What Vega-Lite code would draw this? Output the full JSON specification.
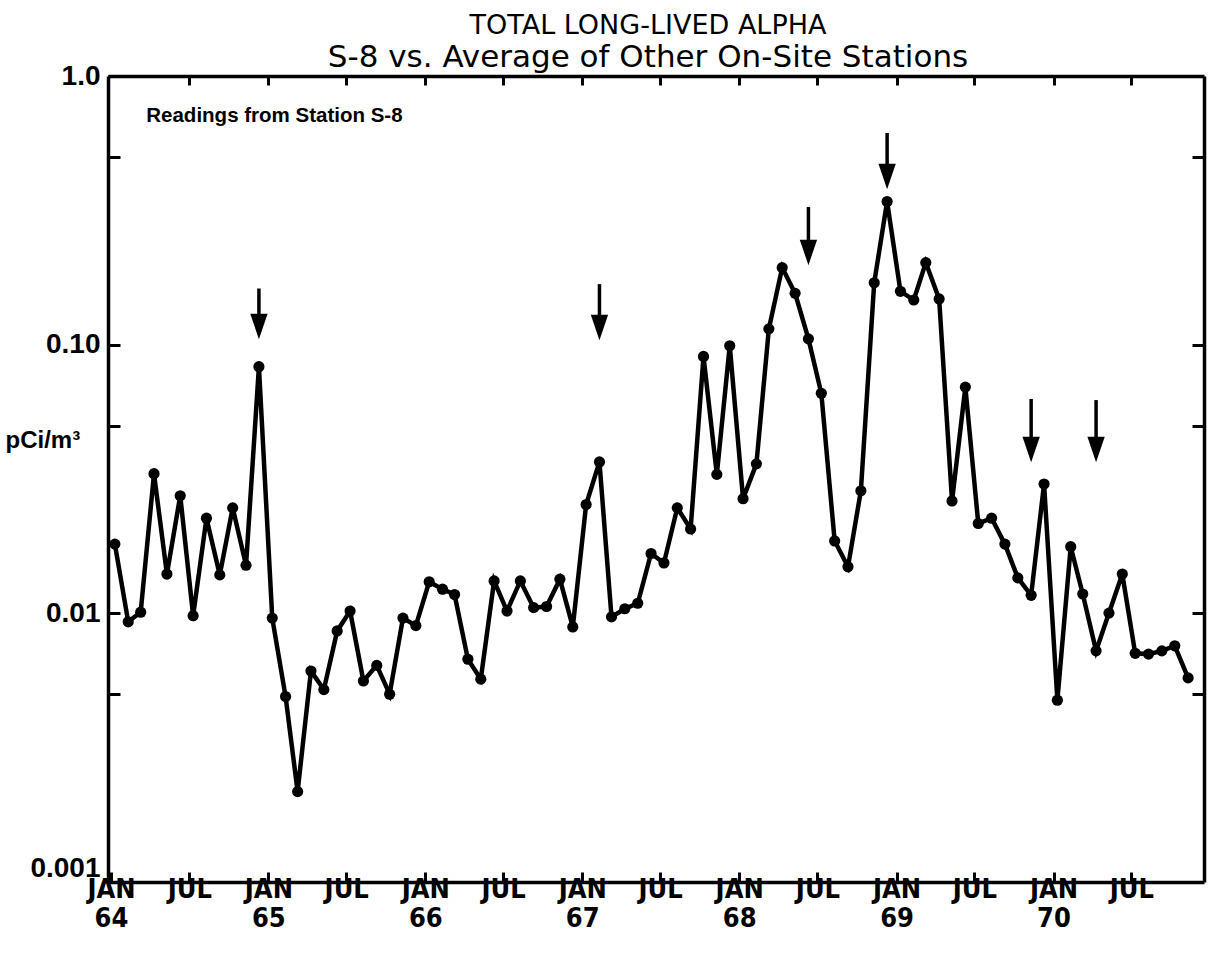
{
  "$schema": "https://vega.github.io/schema/vega-lite/v6.json",
  "width": 1096,
  "height": 806,
  "autosize": {"type": "none"},
  "padding": {"left": 108, "top": 76, "right": 12, "bottom": 73},
  "background": "white",
  "title": {
    "text": "TOTAL LONG-LIVED ALPHA",
    "subtitle": "S-8 vs. Average of Other On-Site Stations",
    "font": "DejaVu Sans",
    "fontSize": 27,
    "fontWeight": "normal",
    "color": "black",
    "subtitleFont": "DejaVu Sans",
    "subtitleFontSize": 31,
    "subtitleColor": "black",
    "anchor": "middle",
    "frame": "group",
    "offset": -12,
    "dx": -8,
    "subtitlePadding": 3
  },
  "config": {
    "view": {"stroke": null},
    "axis": {
      "grid": false,
      "domainColor": "black",
      "domainWidth": 3.5,
      "tickColor": "black",
      "tickWidth": 3,
      "labelColor": "black",
      "titleColor": "black"
    }
  },
  "datasets": {
    "s8": [
      {"date": "1964-01-10", "value": 0.0181},
      {"date": "1964-02-10", "value": 0.0093},
      {"date": "1964-03-10", "value": 0.0101},
      {"date": "1964-04-10", "value": 0.0331},
      {"date": "1964-05-10", "value": 0.0140},
      {"date": "1964-06-10", "value": 0.0274},
      {"date": "1964-07-10", "value": 0.0098},
      {"date": "1964-08-10", "value": 0.0226},
      {"date": "1964-09-10", "value": 0.0139},
      {"date": "1964-10-10", "value": 0.0247},
      {"date": "1964-11-10", "value": 0.0151},
      {"date": "1964-12-10", "value": 0.0828},
      {"date": "1965-01-10", "value": 0.0096},
      {"date": "1965-02-10", "value": 0.0049},
      {"date": "1965-03-10", "value": 0.00217},
      {"date": "1965-04-10", "value": 0.0061},
      {"date": "1965-05-10", "value": 0.0052},
      {"date": "1965-06-10", "value": 0.0086},
      {"date": "1965-07-10", "value": 0.0102},
      {"date": "1965-08-10", "value": 0.0056},
      {"date": "1965-09-10", "value": 0.0064},
      {"date": "1965-10-10", "value": 0.0050},
      {"date": "1965-11-10", "value": 0.0096},
      {"date": "1965-12-10", "value": 0.0090},
      {"date": "1966-01-10", "value": 0.0131},
      {"date": "1966-02-10", "value": 0.0123},
      {"date": "1966-03-10", "value": 0.01175},
      {"date": "1966-04-10", "value": 0.00675},
      {"date": "1966-05-10", "value": 0.00569},
      {"date": "1966-06-10", "value": 0.0132},
      {"date": "1966-07-10", "value": 0.0102},
      {"date": "1966-08-10", "value": 0.0132},
      {"date": "1966-09-10", "value": 0.0105},
      {"date": "1966-10-10", "value": 0.0106},
      {"date": "1966-11-10", "value": 0.0134},
      {"date": "1966-12-10", "value": 0.0089},
      {"date": "1967-01-10", "value": 0.0254},
      {"date": "1967-02-10", "value": 0.0366},
      {"date": "1967-03-10", "value": 0.0097},
      {"date": "1967-04-10", "value": 0.0104},
      {"date": "1967-05-10", "value": 0.0109},
      {"date": "1967-06-10", "value": 0.0167},
      {"date": "1967-07-10", "value": 0.0154},
      {"date": "1967-08-10", "value": 0.0247},
      {"date": "1967-09-10", "value": 0.0206},
      {"date": "1967-10-10", "value": 0.0904},
      {"date": "1967-11-10", "value": 0.0329},
      {"date": "1967-12-10", "value": 0.0991},
      {"date": "1968-01-10", "value": 0.0267},
      {"date": "1968-02-10", "value": 0.0360},
      {"date": "1968-03-10", "value": 0.1145},
      {"date": "1968-04-10", "value": 0.1936},
      {"date": "1968-05-10", "value": 0.1553},
      {"date": "1968-06-10", "value": 0.1051},
      {"date": "1968-07-10", "value": 0.0659},
      {"date": "1968-08-10", "value": 0.0186},
      {"date": "1968-09-10", "value": 0.0149},
      {"date": "1968-10-10", "value": 0.0286},
      {"date": "1968-11-10", "value": 0.170},
      {"date": "1968-12-10", "value": 0.341},
      {"date": "1969-01-10", "value": 0.158},
      {"date": "1969-02-10", "value": 0.1466},
      {"date": "1969-03-10", "value": 0.202},
      {"date": "1969-04-10", "value": 0.148},
      {"date": "1969-05-10", "value": 0.0262},
      {"date": "1969-06-10", "value": 0.0695},
      {"date": "1969-07-10", "value": 0.0216},
      {"date": "1969-08-10", "value": 0.0226},
      {"date": "1969-09-10", "value": 0.0181},
      {"date": "1969-10-10", "value": 0.01355},
      {"date": "1969-11-10", "value": 0.01167},
      {"date": "1969-12-10", "value": 0.0303},
      {"date": "1970-01-10", "value": 0.00475},
      {"date": "1970-02-10", "value": 0.0177},
      {"date": "1970-03-10", "value": 0.0118},
      {"date": "1970-04-10", "value": 0.00725},
      {"date": "1970-05-10", "value": 0.01002},
      {"date": "1970-06-10", "value": 0.0140},
      {"date": "1970-07-10", "value": 0.0071},
      {"date": "1970-08-10", "value": 0.00705},
      {"date": "1970-09-10", "value": 0.00725},
      {"date": "1970-10-10", "value": 0.00757},
      {"date": "1970-11-10", "value": 0.00575}
    ],
    "arrows": [
      {"date": "1964-12-10", "top": 0.1618, "head": 0.1169},
      {"date": "1967-02-10", "top": 0.168, "head": 0.1159},
      {"date": "1968-06-10", "top": 0.3253, "head": 0.2205},
      {"date": "1968-12-10", "top": 0.6135, "head": 0.4225},
      {"date": "1969-11-10", "top": 0.0628, "head": 0.0407},
      {"date": "1970-04-10", "top": 0.0622, "head": 0.0407}
    ],
    "notes": [
      {"date": "1964-03-23", "value": 0.674, "label": "Readings from Station S-8"}
    ]
  },
  "layer": [
    {
      "data": {"name": "s8"},
      "mark": {"type": "line", "color": "black", "strokeWidth": 4.5},
      "encoding": {
        "x": {
          "field": "date", "type": "temporal",
          "scale": {"type": "utc", "nice": false, "domain": [{"year": 1963, "month": 12, "date": 25, "utc": true}, {"year": 1970, "month": 12, "date": 17, "utc": true}]},
          "axis": {
            "orient": "bottom",
            "title": null,
            "values": [
              {"year": 1964, "month": 1, "date": 1, "utc": true},
              {"year": 1964, "month": 7, "date": 1, "utc": true},
              {"year": 1965, "month": 1, "date": 1, "utc": true},
              {"year": 1965, "month": 7, "date": 1, "utc": true},
              {"year": 1966, "month": 1, "date": 1, "utc": true},
              {"year": 1966, "month": 7, "date": 1, "utc": true},
              {"year": 1967, "month": 1, "date": 1, "utc": true},
              {"year": 1967, "month": 7, "date": 1, "utc": true},
              {"year": 1968, "month": 1, "date": 1, "utc": true},
              {"year": 1968, "month": 7, "date": 1, "utc": true},
              {"year": 1969, "month": 1, "date": 1, "utc": true},
              {"year": 1969, "month": 7, "date": 1, "utc": true},
              {"year": 1970, "month": 1, "date": 1, "utc": true},
              {"year": 1970, "month": 7, "date": 1, "utc": true}
            ],
            "labelExpr": "utcmonth(datum.value) == 0 ? ['JAN', utcFormat(datum.value, '%y')] : ['JUL', '']",
            "labelFont": "DejaVu Sans Condensed, Liberation Sans",
            "labelFontSize": 27,
            "labelFontWeight": "bold",
            "labelLineHeight": 29,
            "labelBaseline": "top",
            "labelFlush": false,
            "labelOverlap": false,
            "labelBound": false,
            "tickSize": -10,
            "labelPadding": 4
          }
        },
        "y": {
          "field": "value", "type": "quantitative",
          "scale": {"type": "log", "domain": [0.001, 1], "nice": false},
          "axis": {
            "orient": "left",
            "title": "pCi/m³",
            "titleAngle": 0,
            "titleAlign": "left",
            "titleBaseline": "middle",
            "titleX": -103,
            "titleY": 364,
            "titleFont": "Liberation Sans",
            "titleFontSize": 24,
            "titleFontWeight": "bold",
            "values": [0.001, 0.005, 0.01, 0.05, 0.1, 0.5, 1],
            "labelExpr": "datum.value == 1 ? '1.0' : datum.value == 0.1 ? '0.10' : datum.value == 0.01 ? '0.01' : datum.value == 0.001 ? '0.001' : ''",
            "labelFont": "Liberation Sans",
            "labelFontSize": 28,
            "labelFontWeight": "bold",
            "labelBaseline": {"condition": {"test": "datum.value == 0.001", "value": "bottom"}, "value": "middle"},
            "labelFlush": false,
            "labelOverlap": false,
            "labelBound": false,
            "tickSize": -12,
            "labelPadding": 20
          }
        }
      }
    },
    {
      "data": {"name": "s8"},
      "mark": {"type": "point", "filled": true, "size": 125, "color": "black", "opacity": 1},
      "encoding": {
        "x": {
          "field": "date", "type": "temporal",
          "scale": {"type": "utc", "nice": false, "domain": [{"year": 1963, "month": 12, "date": 25, "utc": true}, {"year": 1970, "month": 12, "date": 17, "utc": true}]},
          "axis": {
            "orient": "top",
            "title": null,
            "labels": false,
            "values": [
              {"year": 1964, "month": 7, "date": 1, "utc": true},
              {"year": 1965, "month": 1, "date": 1, "utc": true},
              {"year": 1965, "month": 7, "date": 1, "utc": true},
              {"year": 1966, "month": 1, "date": 1, "utc": true},
              {"year": 1966, "month": 7, "date": 1, "utc": true},
              {"year": 1967, "month": 1, "date": 1, "utc": true},
              {"year": 1967, "month": 7, "date": 1, "utc": true},
              {"year": 1968, "month": 1, "date": 1, "utc": true},
              {"year": 1968, "month": 7, "date": 1, "utc": true},
              {"year": 1969, "month": 1, "date": 1, "utc": true},
              {"year": 1969, "month": 7, "date": 1, "utc": true},
              {"year": 1970, "month": 1, "date": 1, "utc": true},
              {"year": 1970, "month": 7, "date": 1, "utc": true}
            ],
            "tickSize": -9
          }
        },
        "y": {
          "field": "value", "type": "quantitative",
          "scale": {"type": "log", "domain": [0.001, 1], "nice": false},
          "axis": {
            "orient": "right",
            "title": null,
            "labels": false,
            "values": [0.005, 0.01, 0.05, 0.1, 0.5],
            "tickSize": -12
          }
        }
      }
    },
    {
      "data": {"name": "arrows"},
      "mark": {"type": "rule", "color": "black", "strokeWidth": 3.5},
      "encoding": {
        "x": {"field": "date", "type": "temporal", "scale": {"type": "utc", "nice": false, "domain": [{"year": 1963, "month": 12, "date": 25, "utc": true}, {"year": 1970, "month": 12, "date": 17, "utc": true}]}, "axis": null},
        "y": {"field": "top", "type": "quantitative", "scale": {"type": "log", "domain": [0.001, 1], "nice": false}, "axis": null},
        "y2": {"field": "head"}
      }
    },
    {
      "data": {"name": "arrows"},
      "mark": {"type": "point", "shape": "M-0.68,-1L0.68,-1L0,1Z", "filled": true, "size": 650, "color": "black", "opacity": 1, "strokeWidth": 0},
      "encoding": {
        "x": {"field": "date", "type": "temporal", "scale": {"type": "utc", "nice": false, "domain": [{"year": 1963, "month": 12, "date": 25, "utc": true}, {"year": 1970, "month": 12, "date": 17, "utc": true}]}, "axis": null},
        "y": {"field": "head", "type": "quantitative", "scale": {"type": "log", "domain": [0.001, 1], "nice": false}, "axis": null}
      }
    },
    {
      "data": {"name": "notes"},
      "mark": {"type": "text", "align": "left", "baseline": "alphabetic", "font": "Liberation Sans", "fontSize": 20.5, "fontWeight": "bold", "color": "black"},
      "encoding": {
        "x": {"field": "date", "type": "temporal", "scale": {"type": "utc", "nice": false, "domain": [{"year": 1963, "month": 12, "date": 25, "utc": true}, {"year": 1970, "month": 12, "date": 17, "utc": true}]}, "axis": null},
        "y": {"field": "value", "type": "quantitative", "scale": {"type": "log", "domain": [0.001, 1], "nice": false}, "axis": null},
        "text": {"field": "label"}
      }
    }
  ],
  "resolve": {"axis": {"x": "independent", "y": "independent"}}
}
